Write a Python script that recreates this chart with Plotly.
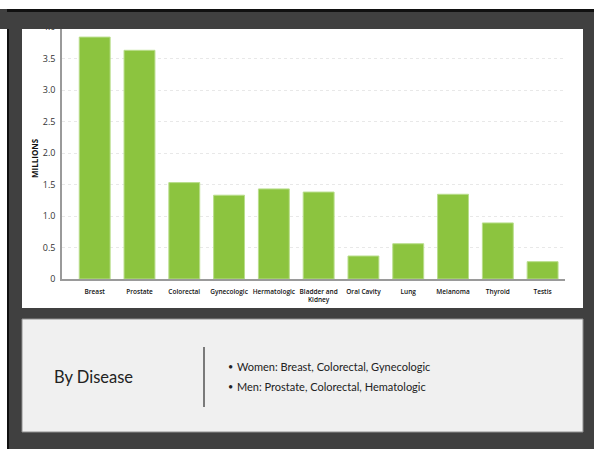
import plotly.graph_objects as go

categories = ["Breast", "Prostate", "Colorectal", "Gynecologic", "Hermatologic",
              "Bladder and<br>Kidney", "Oral Cavity", "Lung", "Melanoma", "Thyroid", "Testis"]
values = [3.84, 3.63, 1.53, 1.33, 1.43, 1.38, 0.365, 0.56, 1.345, 0.89, 0.275]
ytick_vals = [0, 0.5, 1.0, 1.5, 2.0, 2.5, 3.0, 3.5, 4.0]
ytick_text = ["0", "0.5", "1.0", "1.5", "2.0", "2.5", "3.0", "3.5", "4.0"]
bullets = ["Women: Breast, Colorectal, Gynecologic", "Men: Prostate, Colorectal, Hematologic"]

W, H = 594, 449
L, R, T, B = 62, 565, 27, 279  # plot area in pixels


def px(x):
    return (x - L) / (R - L)


def py(y):
    return (B - y) / (B - T)


fig = go.Figure()
fig.add_trace(go.Bar(
    x=categories, y=values,
    marker=dict(color="#8cc43f", line=dict(color="#b9de8c", width=1)),
    width=0.69,
))

shapes = []


def rect(x0, y0, x1, y1, fill, layer="below", line=None):
    shapes.append(dict(type="rect", xref="paper", yref="paper",
                       x0=px(x0), x1=px(x1), y0=py(y1), y1=py(y0),
                       fillcolor=fill, line=line or dict(width=0), layer=layer))


# white chart panel
rect(22, 29, 583, 308, "white")
# cover above chart panel (clips top tick label)
rect(0, 0, W + 4, 29, "#404040", layer="above")
rect(0, 0, W + 4, 9, "white", layer="above")
rect(7, 9, W + 4, 12, "#111111", layer="above")
rect(0, 0, 7, H, "white", layer="below")
rect(7, 9, 9, H, "#111111", layer="below")
# gray text panel
rect(22, 319, 583, 432, "#f0f0f0", line=dict(color="#8f8f8f", width=1))
# vertical divider
shapes.append(dict(type="line", xref="paper", yref="paper",
                   x0=px(204), x1=px(204), y0=py(347), y1=py(407),
                   line=dict(color="#7a7a7a", width=2), layer="above"))

annotations = [
    dict(text="MILLIONS", xref="paper", yref="paper", x=px(35), y=py(158),
         xanchor="center", yanchor="middle", showarrow=False, textangle=-90,
         font=dict(family="Open Sans", size=8, color="#111111", weight="bold")),
    dict(text="By Disease", xref="paper", yref="paper", x=px(52), y=py(377),
         xanchor="left", yanchor="middle", showarrow=False,
         font=dict(family="Lato", size=16.5, color="#222222")),
]
for t, yy in zip(bullets, [366, 386]):
    annotations.append(dict(text="•", xref="paper", yref="paper", x=px(226), y=py(yy),
                            xanchor="left", yanchor="middle", showarrow=False,
                            font=dict(family="Lato", size=9, color="#222222")))
    annotations.append(dict(text=t, xref="paper", yref="paper", x=px(235), y=py(yy),
                            xanchor="left", yanchor="middle", showarrow=False,
                            font=dict(family="Lato", size=11, color="#222222")))

fig.update_layout(
    width=W, height=H,
    margin=dict(l=L, r=W - R, t=T, b=H - B, pad=0),
    paper_bgcolor="#404040",
    plot_bgcolor="rgba(0,0,0,0)",
    showlegend=False,
    shapes=shapes,
    annotations=annotations,
    xaxis=dict(
        range=[-0.73, 10.5], showgrid=False, zeroline=False,
        showline=True, linecolor="#9a9a9a", linewidth=1.5,
        ticks="", ticklabelstandoff=5,
        tickfont=dict(family="Open Sans", size=6.5, color="#111111", weight=600),
        tickangle=0,
    ),
    yaxis=dict(
        range=[0, 4.0], tickvals=ytick_vals, ticktext=ytick_text,
        showgrid=True, gridcolor="#e8e8e8", griddash="3px,3px", gridwidth=1,
        zeroline=False, showline=True, linecolor="#9a9a9a", linewidth=1.5,
        ticks="", ticklabelstandoff=3,
        tickfont=dict(family="Open Sans", size=9, color="#333333"),
    ),
)

fig.write_html("out.html",
               post_script="document.body.style.margin='0';document.body.style.overflow='hidden';")
